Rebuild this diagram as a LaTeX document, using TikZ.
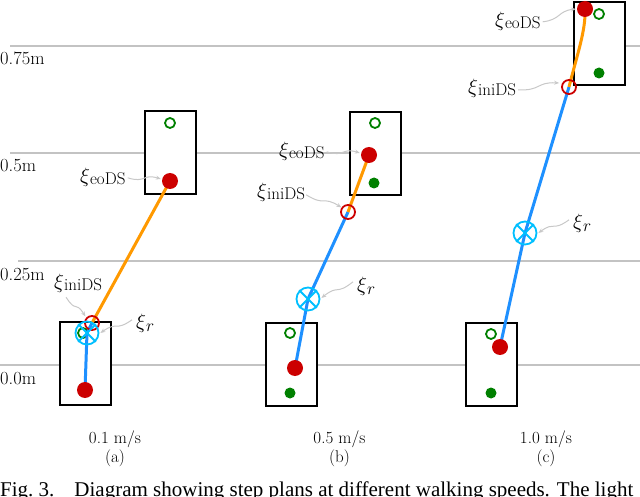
\documentclass[tikz,border=0pt]{standalone}
\usepackage{fontspec}
\newfontfamily\capfont{Liberation Serif}
\usetikzlibrary{arrows.meta,calc}
\definecolor{dotred}{RGB}{204,0,0}
\definecolor{dotgreen}{RGB}{0,128,0}
\definecolor{trajorange}{RGB}{255,153,0}
\definecolor{trajblue}{RGB}{30,144,255}
\definecolor{markcyan}{RGB}{0,191,255}
\definecolor{gridgray}{RGB}{195,195,195}
\definecolor{pointergray}{RGB}{200,200,200}
\newcommand{\subfont}{\fontsize{17}{20}\selectfont}
\newcommand{\xisub}[1]{$\xi$\raisebox{-2pt}{\subfont #1}}
\newcommand{\xir}{$\xi$\raisebox{-3pt}{\subfont $r$}}
\begin{document}
\begin{tikzpicture}[x=1pt,y=-1pt,
  gridline/.style={draw=gridgray, line width=2pt},
  gridlabel/.style={anchor=base west, inner sep=0pt, font=\fontsize{18.5}{22}\selectfont},
  footbox/.style={draw=black, line width=2pt, fill=white, minimum width=51pt, minimum height=83pt, inner sep=0pt},
  reddot/.style={circle, fill=dotred, minimum size=16pt, inner sep=0pt},
  greenring/.style={circle, draw=dotgreen, line width=1.8pt, minimum size=10pt, inner sep=0pt},
  greendot/.style={circle, fill=dotgreen, minimum size=11pt, inner sep=0pt},
  inimark/.style={circle, draw=dotred, line width=1.8pt, minimum size=14pt, inner sep=0pt},
  rmark/.style={circle, draw=markcyan, line width=1.8pt, minimum size=23pt, inner sep=0pt},
  rcross/.style={draw=markcyan, line width=1.8pt},
  orangepath/.style={draw=trajorange, line width=3pt},
  bluepath/.style={draw=trajblue, line width=3pt},
  xilabel/.style={anchor=base west, inner sep=0pt, font=\fontsize{20.74}{24}\selectfont},
  pointer/.style={draw=pointergray, line width=1pt, -{Stealth[length=5pt,width=4pt]}},
  wig/.style={to path={.. controls ($(\tikztostart)!0.55!(\tikztotarget)+(0,#1)$) and ($(\tikztostart)!0.45!(\tikztotarget)-(0,#1)$) .. (\tikztotarget)}},
  wig/.default=6,
  speedlabel/.style={anchor=base, inner sep=0pt, font=\fontsize{17}{20}\selectfont},
]
\useasboundingbox (0,0) rectangle (640,497);

% grid lines and labels
\draw[gridline] (10,46) -- (640,46);
\draw[gridline] (10,153) -- (640,153);
\draw[gridline] (18,261) -- (640,261);
\draw[gridline] (0,365) -- (640,365);
\node[gridlabel] (g75) at (0,65) {0.75m};
\node[gridlabel] (g50) at (0,172) {0.5m};
\node[gridlabel] (g25) at (0,280) {0.25m};
\node[gridlabel] (g00) at (0,384) {0.0m};

% foot boxes
\node[footbox] (aB) at (85.5,363.5) {};
\node[footbox] (aT) at (170,152.5) {};
\node[footbox] (bB) at (291,364.5) {};
\node[footbox] (bT) at (375.5,153.5) {};
\node[footbox] (cB) at (491.5,364) {};
\node[footbox] (cT) at (599,44) {};

% ---------- panel (a)
\node[greenring] (aTg) at (170,123) {};
\node[greenring] (aBg) at (83,333) {};
\coordinate (aRc) at (87,333);
\coordinate (aIc) at (92,323);
\coordinate (aEoc) at (170,181);
\coordinate (aSc) at (85,390);
\draw[bluepath] (aSc) -- (aRc) -- (aIc);
\draw[orangepath] (aIc) -- (aEoc);
\node[reddot] (aEo) at (aEoc) {};
\node[reddot] (aS) at (aSc) {};
\node[inimark] (aIni) at (aIc) {};
\node[rmark] (aR) at (aRc) {};
\draw[rcross] (aR.north west) -- (aR.south east) (aR.north east) -- (aR.south west);

\node[xilabel] (aEoL) at (80,183) {\xisub{eoDS}};
\node[xilabel] (aIniL) at (54,288) {\xisub{iniDS}};
\node[xilabel] (aRL) at (136,328) {\xir};
\draw[pointer] ($(aEoL.east)+(2,0)$) to[wig=5] ($(aEo.west)+(-1,-2)$);
\draw[pointer] ($(aIniL.south)+(-12,5)$) to[wig=6] ($(aIni.north west)+(-1,-1)$);
\draw[pointer] ($(aRL.west)+(-4,-3)$) to[wig=5] ($(aR.east)+(1,0)$);

\node[speedlabel] (aSp) at (115,443) {0.1 m/s};
\node[speedlabel] (aLt) at (115,462) {(a)};

% ---------- panel (b)
\node[greenring] (bTg) at (375,123) {};
\node[greendot] (bTf) at (374,183) {};
\node[greenring] (bBg) at (290,333) {};
\node[greendot] (bBf) at (290,393) {};
\coordinate (bIc) at (348,212);
\coordinate (bRc) at (308,299);
\coordinate (bEoc) at (369,155);
\coordinate (bSc) at (295,368);
\draw[bluepath] (bSc) -- (bRc) -- (bIc);
\draw[orangepath] (bIc) -- (bEoc);
\node[reddot] (bEo) at (bEoc) {};
\node[reddot] (bS) at (bSc) {};
\node[inimark] (bIni) at (bIc) {};
\node[rmark] (bR) at (bRc) {};
\draw[rcross] (bR.north west) -- (bR.south east) (bR.north east) -- (bR.south west);

\node[xilabel] (bEoL) at (279,157) {\xisub{eoDS}};
\node[xilabel] (bIniL) at (257,198) {\xisub{iniDS}};
\node[xilabel] (bRL) at (357,291) {\xir};
\draw[pointer] ($(bEoL.east)+(2,0)$) to[wig=5] ($(bEo.west)+(-1,-2)$);
\draw[pointer] ($(bIniL.east)+(1,2)$) to[wig=5] ($(bIni.north west)+(-1,1)$);
\draw[pointer] ($(bRL.west)+(-4,-4)$) to[wig=5] ($(bR.east)+(1,-1)$);

\node[speedlabel] (bSp) at (339.5,443) {0.5 m/s};
\node[speedlabel] (bLt) at (339.5,462) {(b)};

% ---------- panel (c)
\node[greenring] (cTg) at (599,14) {};
\node[greendot] (cTf) at (599,73) {};
\node[greenring] (cBg) at (491,334) {};
\node[greendot] (cBf) at (491,393) {};
\coordinate (cIc) at (569,87);
\coordinate (cRc) at (525,233);
\coordinate (cEoc) at (585,9);
\coordinate (cSc) at (500,347);
\draw[bluepath] (cSc) -- (cRc) -- (cIc);
\draw[orangepath] (cIc) .. controls (577,55) and (586,30) .. (cEoc);
\node[reddot] (cEo) at (cEoc) {};
\node[reddot] (cS) at (cSc) {};
\node[inimark] (cIni) at (cIc) {};
\node[rmark] (cR) at (cRc) {};
\draw[rcross] (cR.north west) -- (cR.south east) (cR.north east) -- (cR.south west);

\node[xilabel] (cEoL) at (495,27) {\xisub{eoDS}};
\node[xilabel] (cIniL) at (468,94) {\xisub{iniDS}};
\node[xilabel] (cRL) at (573,229) {\xir};
\draw[pointer] ($(cEoL.east)+(2,0)$) to[wig=5] ($(cEo.west)+(-1,0)$);
\draw[pointer] ($(cIniL.east)+(2,1)$) to[wig=5] ($(cIni.west)+(-2,-4)$);
\draw[pointer] ($(cRL.west)+(-4,-4)$) to[wig=5] ($(cR.east)+(1,0)$);

\node[speedlabel] (cSp) at (546,443) {1.0 m/s};
\node[speedlabel] (cLt) at (546,462) {(c)};

% caption
\node[anchor=base west, inner sep=0pt, font=\capfont\fontsize{21}{24}\selectfont] (cap) at (0,496)
  {Fig.~3.\hspace{20pt}Diagram showing step plans at different walking speeds. The light};
\end{tikzpicture}
\end{document}
